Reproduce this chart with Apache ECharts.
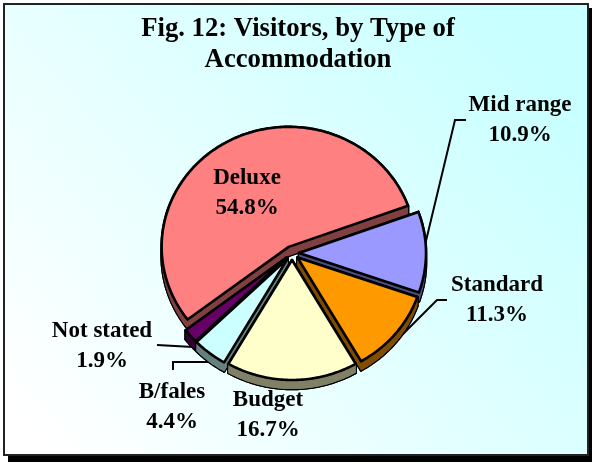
<!DOCTYPE html>
<html><head><meta charset="utf-8">
<style>html,body{margin:0;padding:0;background:#fff}#c{width:592px;height:464px}</style>
<script src="https://cdn.jsdelivr.net/npm/echarts@6/dist/echarts.min.js"></script>
</head><body><div id="c"></div>
<script>
const categories = ['Deluxe','Not stated','B/fales','Budget','Standard','Mid range'];
const shares = [54.8,1.9,4.4,16.7,11.3,10.9];
const faceColors = ['#FF8080','#660066','#CCFFFF','#FFFFCC','#FF9900','#9999FF'];
const wallColors = ['#804040','#330033','#668080','#808066','#804D00','#4D4D80'];
const drawRank = [0,1,2,5,4,3];
const labelAt = [[247,193],[102,346],[172,407],[268,415],[497,300],[520,120]];
const leaders = [
  null,
  [[157,345],[193,347]],
  [[173,370],[173,362],[213,362]],
  null,
  [[447,300],[437,300],[400,337]],
  [[466,120],[455,120],[425,245]]
];
const CX=292, CY=253, RX=127, RY=120, EXPLODE=7, DEPTH=9, START=20;
const FONT='bold 23px "Liberation Serif"';
const total = shares.reduce((a,b)=>a+b,0);
const rad = d=>d*Math.PI/180;

function renderItem(params, api){
  const i = params.dataIndex;
  let before = 0;
  for(let k=0;k<i;k++) before += shares[k];
  const a0 = START + before/total*360;
  const a1 = a0 + api.value(1)/total*360;
  const mid = rad((a0+a1)/2);
  const ox = CX + EXPLODE*Math.cos(mid), oy = CY - EXPLODE*Math.sin(mid);
  const arc = [];
  const n = Math.max(2, Math.ceil(a1-a0));
  for(let s=0;s<=n;s++){
    const t = rad(a0+(a1-a0)*s/n);
    arc.push([ox+RX*Math.cos(t), oy-RY*Math.sin(t)]);
  }
  const down = p=>[p[0],p[1]+DEPTH];
  const apex=[ox,oy];
  const face=[apex].concat(arc);
  const parts=[
    face.map(down),
    arc.concat(arc.map(down).reverse()),
    [apex,arc[0],down(arc[0]),down(apex)],
    [apex,arc[n],down(arc[n]),down(apex)]
  ];
  const base = drawRank[i]*4+1;
  const children=[];
  parts.forEach(pts=>children.push({type:'polygon',z2:base,shape:{points:pts},
    style:{fill:wallColors[i],stroke:'#000',lineWidth:2.6,lineJoin:'round'}}));
  parts.forEach(pts=>children.push({type:'polygon',z2:base+1,shape:{points:pts},
    style:{fill:wallColors[i],stroke:null}}));
  children.push({type:'polygon',z2:base+2,shape:{points:face},
    style:{fill:faceColors[i],stroke:'#000',lineWidth:2.6,lineJoin:'round'}});
  if(leaders[i]) children.push({type:'polyline',z2:base-1,shape:{points:leaders[i]},
    style:{fill:null,stroke:'#000',lineWidth:2}});
  children.push({type:'text',z2:100,x:labelAt[i][0],y:labelAt[i][1],
    style:{text:api.value(0)+'\n'+api.value(1).toFixed(1)+'%',font:FONT,fill:'#000',
      align:'center',verticalAlign:'middle',lineHeight:30}});
  return {type:'group',children};
}

const chart = echarts.init(document.getElementById('c'),null,{renderer:'canvas'});
chart.setOption({
  animation:false,
  title:{text:'Fig. 12: Visitors, by Type of\nAccommodation',left:298,top:9,textAlign:'center',
    textStyle:{fontFamily:'Liberation Serif',fontWeight:'bold',fontSize:26.7,lineHeight:31,color:'#000'},
    padding:[5,10,5,0]},
  graphic:[
    {type:'rect',z:-2,shape:{x:8,y:8,width:584,height:454},style:{fill:'#000'}},
    {type:'rect',z:-1,shape:{x:4,y:4,width:584,height:451},
      style:{stroke:'#222',lineWidth:2,
        fill:new echarts.graphic.LinearGradient(0.1,1,0.9,0.1,[{offset:0,color:'#FFFFFF'},{offset:1,color:'#C8FFFF'}])}}
  ],
  series:[{type:'custom',coordinateSystem:'none',renderItem,clip:false,silent:true,
    encode:{itemName:0,value:1},
    data:categories.map((c,i)=>[c,shares[i]])}]
});
</script></body></html>
